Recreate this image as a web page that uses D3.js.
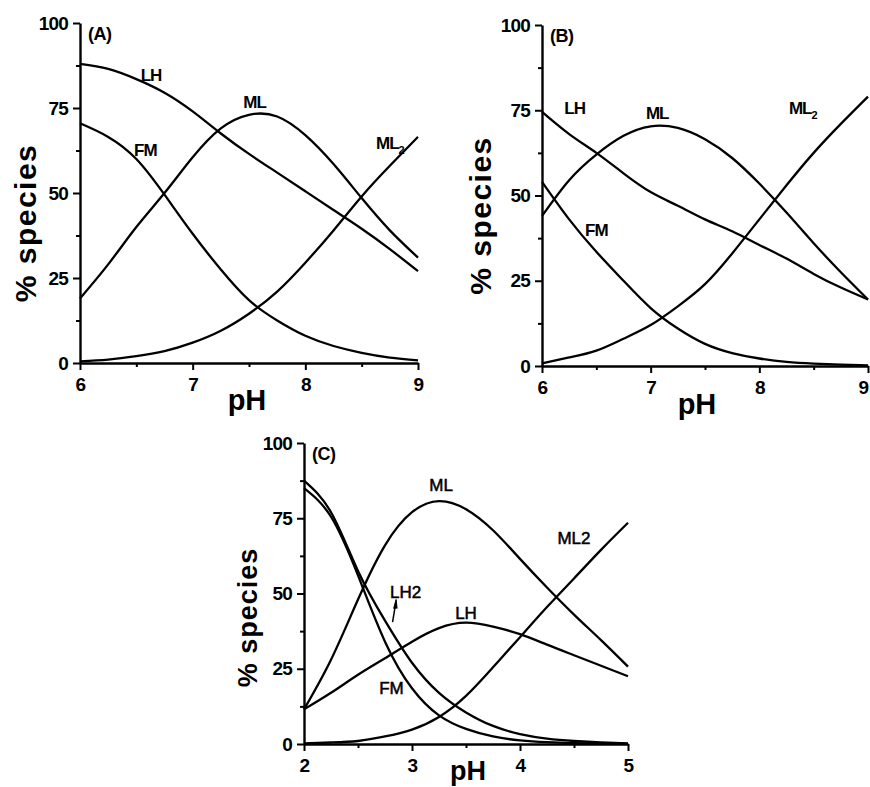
<!DOCTYPE html>
<html>
<head>
<meta charset="utf-8">
<script src="https://cdn.jsdelivr.net/npm/d3@7"></script>
<style>
  body { margin: 0; background: #fff; }
  svg { display: block; font-family: "Liberation Sans", Arial, sans-serif; }
</style>
</head>
<body>
<svg width="870" height="787"></svg>
<script>
// species distribution curves, three panels (A, B, C)

// --- data ---
const phAB = [6, 6.25, 6.5, 6.75, 7, 7.25, 7.5, 7.75, 8, 8.25, 8.5, 8.75, 9];
const phC  = [2, 2.25, 2.5, 2.75, 3, 3.25, 3.5, 3.75, 4, 4.25, 4.5, 4.75, 5];

// panel A
const lhA  = [88, 86.5, 83.5, 79.5, 74, 67.5, 61.5, 56, 50.5, 45, 39.5, 33.5, 27];
const mlA  = [19, 29, 40, 50, 60.5, 69, 73, 72.5, 67, 58.5, 48.5, 39, 31];
const fmA  = [70.5, 66.5, 60, 49.5, 38, 27.5, 18.5, 12.5, 8, 5, 3, 1.6, 0.8];
const ml2A = [0.5, 1, 2, 3.5, 6, 9.5, 14.5, 21, 29.5, 39, 49, 58, 66.5];

// panel B
const lhB  = [74.5, 68, 62.5, 56.5, 51, 47, 43, 39.5, 35.5, 31.5, 27, 23, 19.5];
const mlB  = [44, 54.5, 62, 67.5, 70.3, 69.8, 66.5, 61, 53.5, 45, 36, 27.5, 19.5];
const fmB  = [54, 43, 33.5, 25, 17, 11, 6.5, 3.8, 2.2, 1.2, 0.7, 0.4, 0.2];
const ml2B = [0.8, 2.5, 4.5, 8, 12, 17.5, 24, 33, 43, 53, 62.5, 71, 79];

// panel C
const mlC  = [11.5, 28, 48, 66, 77, 80.7, 78, 71, 61.5, 52, 43, 34.5, 25.7];
const lhC  = [11.5, 17, 23, 28.5, 34, 38.5, 40.3, 39, 36.5, 33, 29.5, 26, 22.5];
const fmC  = [85, 75.5, 56, 34, 18.5, 9.5, 5, 2.5, 1.2, 0.6, 0.3, 0.15, 0.05];
const lh2C = [87.5, 77, 57.5, 41, 27, 17, 10.5, 6, 3.3, 1.8, 1, 0.5, 0.2];
const ml2C = [0.2, 0.5, 1, 2.5, 4.8, 9, 16, 25.5, 35.5, 45.5, 55, 64.5, 73.5];

const yTicks = [0, 25, 50, 75, 100];
const yMinor = [12.5, 37.5, 62.5, 87.5];
const xTicksAB = [6, 7, 8, 9];
const xMinorAB = [6.5, 7.5, 8.5];
const xTicksC = [2, 3, 4, 5];
const xMinorC = [2.5, 3.5, 4.5];

const svg = d3.select("svg");

function drawPanel(cfg) {
  const x = d3.scaleLinear().domain(cfg.xDomain).range([cfg.left, cfg.right]);
  const y = d3.scaleLinear().domain([0, 100]).range([cfg.bottom, cfg.top]);
  const g = svg.append("g");

  // curves
  const line = d3.line()
    .x(d => x(d[0]))
    .y(d => y(Math.max(0, d[1])))
    .curve(d3.curveNatural);

  cfg.series.forEach(s => {
    g.append("path")
      .datum(cfg.ph.map((p, i) => [p, s[i]]))
      .attr("fill", "none")
      .attr("stroke", "#000")
      .attr("stroke-width", 2.3)
      .attr("d", line);
  });

  // axes: major + minor ticks, outward
  const styleAxis = sel => {
    sel.selectAll(".domain").attr("stroke-width", 2.4);
    sel.selectAll(".tick line").attr("stroke-width", 2);
    sel.selectAll("text")
      .attr("fill", "#000")
      .style("font-size", "19px")
      .style("font-weight", "bold")
      .style("letter-spacing", "-0.8px");
  };

  g.append("g")
    .attr("transform", `translate(0,${cfg.bottom})`)
    .call(d3.axisBottom(x).tickValues(cfg.xMinor).tickSize(4).tickFormat(""))
    .call(sel => sel.select(".domain").remove())
    .call(styleAxis);
  const xAxis = g.append("g")
    .attr("transform", `translate(0,${cfg.bottom})`)
    .call(d3.axisBottom(x).tickValues(cfg.xTicks).tickSize(7).tickSizeOuter(0).tickPadding(8).tickFormat(d3.format("d")))
    .call(styleAxis);
  // last label sits at the window edge in (B): nudge it in
  if (cfg.lastLabelShift) {
    xAxis.selectAll(".tick text").filter((d, i, n) => i === n.length - 1)
      .attr("x", cfg.lastLabelShift);
  }

  g.append("g")
    .attr("transform", `translate(${cfg.left},0)`)
    .call(d3.axisLeft(y).tickValues(yMinor).tickSize(4).tickFormat(""))
    .call(sel => sel.select(".domain").remove())
    .call(styleAxis);
  g.append("g")
    .attr("transform", `translate(${cfg.left},0)`)
    .call(d3.axisLeft(y).tickValues(yTicks).tickSize(7).tickSizeOuter(0).tickPadding(5))
    .call(styleAxis);

  // axis titles
  svg.append("text")
    .attr("transform", `translate(${cfg.yTitleX},${(cfg.top + cfg.bottom) / 2 + cfg.yTitleShift}) rotate(-90)`)
    .attr("text-anchor", "middle")
    .style("font-size", cfg.yTitleSize + "px")
    .style("font-weight", "bold")
    .style("letter-spacing", cfg.yTitleSpacing + "px")
    .text("% species");

  svg.append("text")
    .attr("x", cfg.pHx)
    .attr("y", cfg.pHy)
    .attr("text-anchor", "middle")
    .style("font-size", cfg.pHsize + "px")
    .style("font-weight", "bold")
    .text("pH");

  // panel letter
  svg.append("text")
    .attr("x", x(cfg.xDomain[0]) + 8)
    .attr("y", y(100) + 17)
    .style("font-size", "18px")
    .style("font-weight", "bold")
    .style("letter-spacing", "-0.5px")
    .text(cfg.letter);

  // curve labels
  cfg.labels.forEach(l => {
    const t = svg.append("text")
      .attr("x", x(l.x))
      .attr("y", y(l.y))
      .attr("text-anchor", "middle")
      .style("font-size", "17px")
      .style("font-weight", cfg.labelWeight)
      .style("letter-spacing", cfg.labelSpacing + "px")
      .attr("stroke", "#000")
      .attr("stroke-width", cfg.labelStroke)
      .text(l.text);
    if (l.sub) {
      t.append("tspan").attr("dy", 5).style("font-size", "11px").text(l.sub);
    }
  });

  return { x, y };
}

// (A)
drawPanel({
  xDomain: [6, 9], left: 80, right: 418, top: 23, bottom: 363,
  ph: phAB, series: [lhA, mlA, fmA, ml2A],
  xTicks: xTicksAB, xMinor: xMinorAB,
  yTitleX: 36, yTitleShift: 30, yTitleSize: 30, yTitleSpacing: 1.5,
  pHx: 247, pHy: 410, pHsize: 29, letter: "(A)",
  labelWeight: "bold", labelSpacing: -1, labelStroke: 0,
  labels: [
    { text: "LH", x: 6.63, y: 83 },
    { text: "ML", x: 7.55, y: 75 },
    { text: "FM", x: 6.58, y: 61 },
    { text: "ML", sub: "2", x: 8.75, y: 63 }
  ]
});

// (B)
drawPanel({
  xDomain: [6, 9], left: 542, right: 868, top: 25, bottom: 366,
  ph: phAB, series: [lhB, mlB, fmB, ml2B],
  xTicks: xTicksAB, xMinor: xMinorAB, lastLabelShift: -5,
  yTitleX: 491, yTitleShift: 20, yTitleSize: 30, yTitleSpacing: 1.5,
  pHx: 697, pHy: 414, pHsize: 29, letter: "(B)",
  labelWeight: "bold", labelSpacing: -1, labelStroke: 0,
  labels: [
    { text: "LH", x: 6.3, y: 74 },
    { text: "ML", x: 7.06, y: 72.5 },
    { text: "FM", x: 6.5, y: 38 },
    { text: "ML", sub: "2", x: 8.4, y: 74 }
  ]
});

// (C)
const pc = drawPanel({
  xDomain: [2, 5], left: 304, right: 628, top: 443, bottom: 744,
  ph: phC, series: [mlC, lhC, fmC, lh2C, ml2C],
  xTicks: xTicksC, xMinor: xMinorC,
  yTitleX: 257, yTitleShift: 24, yTitleSize: 27, yTitleSpacing: 1,
  pHx: 468, pHy: 780, pHsize: 27, letter: "(C)",
  labelWeight: "normal", labelSpacing: 0, labelStroke: 0.5,
  labels: [
    { text: "ML", x: 3.27, y: 84 },
    { text: "ML2", x: 4.5, y: 66.5 },
    { text: "LH2", x: 2.94, y: 48.5 },
    { text: "LH", x: 3.5, y: 41.5 },
    { text: "FM", x: 2.81, y: 16.5 }
  ]
});

// small arrow from the LH2 curve up to its label
svg.append("path")
  .attr("d", d3.line()([[pc.x(2.82), pc.y(40.5)], [pc.x(2.85), pc.y(47)]]))
  .attr("stroke", "#000")
  .attr("stroke-width", 1.5);
svg.append("path")
  .attr("d", d3.line()([[pc.x(2.83), pc.y(45)], [pc.x(2.853), pc.y(48)], [pc.x(2.862), pc.y(45)]]))
  .attr("fill", "#000")
  .attr("stroke", "#000")
  .attr("stroke-width", 1);
</script>
</body>
</html>
